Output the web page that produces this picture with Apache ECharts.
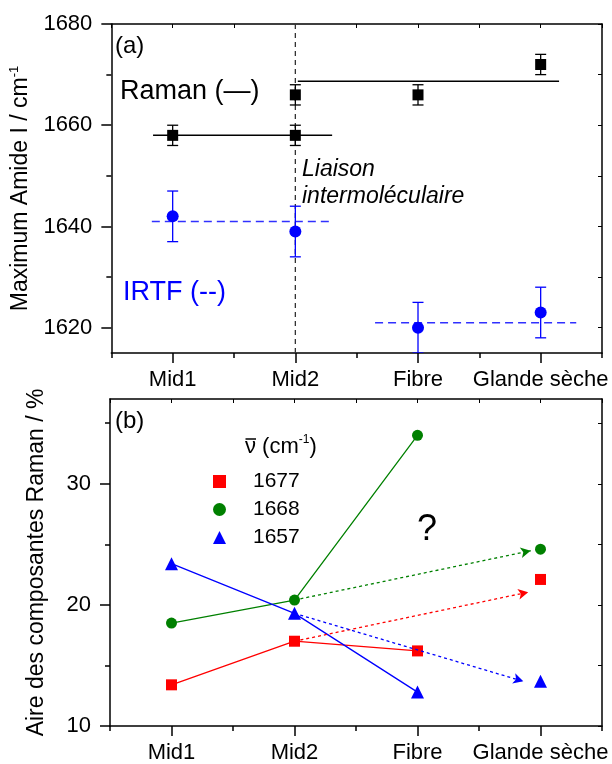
<!DOCTYPE html>
<html><head><meta charset="utf-8">
<script src="https://cdn.jsdelivr.net/npm/echarts@6/dist/echarts.min.js"></script>
<style>html,body{margin:0;padding:0;background:#fff}#c{width:612px;height:764px}</style>
</head><body><div id="c"></div>
<script>
// ---------- data ----------
const categories = ['Mid1', 'Mid2', 'Fibre', 'Glande sèche'];
const catPos = [1, 2, 3, 4];
const halfPos = [0.5, 1.5, 2.5, 3.5, 4.5];
const allPos = [0.5, 1, 1.5, 2, 2.5, 3, 3.5, 4, 4.5];

// panel (a)
const ramanX = [1, 2, 2, 3, 4];
const ramanY = [1658, 1658, 1666, 1666, 1672];
const ramanErr = [2, 2, 2, 2, 2];
const irtfX = [1, 2, 3, 4];
const irtfY = [1642, 1639, 1620, 1623];
const irtfErr = [5, 5, 5, 5];
const ramanLevel1 = [[0.84, 1658], [2.30, 1658]];
const ramanLevel2 = [[2.02, 1668.7], [4.15, 1668.7]];
const irtfLevel1 = [[0.83, 1641], [2.30, 1641]];
const irtfLevel2 = [[2.65, 1621], [4.29, 1621]];
const separatorLine = [[2, 1615], [2, 1680]];
const aMajor = [1620, 1640, 1660, 1680];
const aMinor = [1630, 1650, 1670];
const aAll = [1620, 1630, 1640, 1650, 1660, 1670, 1680];

// panel (b)
const v1677 = [13.4, 17.0, 16.2, 22.1];
const v1668 = [18.5, 20.4, 34.0, 24.6];
const v1657 = [23.4, 19.3, 12.8, 13.7];
const arrow1677 = [[2, 17.0], [3.90, 21.05]];
const arrow1668 = [[2, 20.4], [3.92, 24.47]];
const arrow1657 = [[2, 19.3], [3.86, 13.69]];
const bMajor = [10, 20, 30];
const bMinor = [15, 25, 35];
const bAll = [10, 15, 20, 25, 30, 35];

// ---------- helpers ----------
const FONT = "'Liberation Sans', Arial, sans-serif";
const RED = '#ff0000', GREEN = '#008000', BLUE = '#0000ff';

function pts(xs, ys) { return xs.map((x, i) => [x, ys[i]]); }

function errRender(color, capW) {
  return function (params, api) {
    const x = api.value(0), y = api.value(1), e = api.value(2);
    const hi = api.coord([x, y + e]), lo = api.coord([x, y - e]);
    const st = { stroke: color, lineWidth: 1.3 };
    return {
      type: 'group', children: [
        { type: 'line', shape: { x1: hi[0], y1: hi[1], x2: lo[0], y2: lo[1] }, style: st },
        { type: 'line', shape: { x1: hi[0] - capW / 2, y1: hi[1], x2: hi[0] + capW / 2, y2: hi[1] }, style: st },
        { type: 'line', shape: { x1: lo[0] - capW / 2, y1: lo[1], x2: lo[0] + capW / 2, y2: lo[1] }, style: st }
      ]
    };
  };
}

const axisLine = { show: true, lineStyle: { color: '#000', width: 1.5 } };

function xAxes(grid) {
  return [
    { gridIndex: grid, type: 'value', position: 'bottom', min: 0.5, max: 4.5,
      axisLine: axisLine, splitLine: { show: false },
      axisTick: { show: true, inside: false, length: 10, customValues: catPos, lineStyle: { color: '#000', width: 1.5 } },
      axisLabel: { show: true, customValues: catPos, margin: 16, fontSize: 22, fontFamily: FONT, color: '#000',
        formatter: v => categories[Math.round(v) - 1] } },
    { gridIndex: grid, type: 'value', position: 'bottom', min: 0.5, max: 4.5,
      axisLine: { show: false }, splitLine: { show: false }, axisLabel: { show: false },
      axisTick: { show: true, inside: false, length: 5, customValues: halfPos, lineStyle: { color: '#000', width: 1.5 } } },
    { gridIndex: grid, type: 'value', position: 'top', min: 0.5, max: 4.5,
      axisLine: axisLine, splitLine: { show: false }, axisLabel: { show: false },
      axisTick: { show: true, inside: true, length: 4, customValues: allPos, lineStyle: { color: '#000', width: 1 } } }
  ];
}

function yAxes(grid, min, max, major, minor, all, nameRich) {
  return [
    { gridIndex: grid, type: 'value', position: 'left', min: min, max: max,
      axisLine: axisLine, splitLine: { show: false },
      axisTick: { show: true, inside: false, length: 10, customValues: major, lineStyle: { color: '#000', width: 1.5 } },
      axisLabel: { show: true, customValues: major, margin: 19, fontSize: 22, fontFamily: FONT, color: '#000',
        formatter: v => String(v) },
      name: nameRich, nameLocation: 'middle', nameGap: 60,
      nameTextStyle: { fontFamily: FONT, color: '#000',
        rich: { t: { fontSize: 23, fontFamily: FONT, color: '#000', lineHeight: 26 },
                s: { fontSize: 13, fontFamily: FONT, color: '#000', verticalAlign: 'top', lineHeight: 26 } } } },
    { gridIndex: grid, type: 'value', position: 'left', min: min, max: max,
      axisLine: { show: false }, splitLine: { show: false }, axisLabel: { show: false },
      axisTick: { show: true, inside: false, length: 5, customValues: minor, lineStyle: { color: '#000', width: 1.5 } } },
    { gridIndex: grid, type: 'value', position: 'right', min: min, max: max,
      axisLine: axisLine, splitLine: { show: false }, axisLabel: { show: false },
      axisTick: { show: true, inside: true, length: 4, customValues: all, lineStyle: { color: '#000', width: 1 } } }
  ];
}

function lineSeg(data, color, type, width, xi, yi) {
  return { type: 'line', xAxisIndex: xi, yAxisIndex: yi, data: data, showSymbol: false, symbol: 'none',
    silent: true, lineStyle: { color: color, width: width, type: type }, z: 2 };
}

function arrowSeries(arrow, color) {
  return { type: 'line', xAxisIndex: 3, yAxisIndex: 3, data: [], symbol: 'none', silent: true,
    markLine: { silent: true, symbol: ['none', 'arrow'], symbolSize: [8, 10], label: { show: false },
      lineStyle: { color: color, width: 1.3, type: [3, 3] },
      data: [[{ coord: arrow[0] }, { coord: arrow[1] }]] }, z: 2 };
}

const chart = echarts.init(document.getElementById('c'), null, { renderer: 'canvas' });
const option = {
  animation: false,
  backgroundColor: '#fff',
  textStyle: { fontFamily: FONT },
  grid: [
    { left: 110, right: 10, top: 24, height: 329 },
    { left: 110, right: 10, top: 399, height: 328 }
  ],
  xAxis: [].concat(xAxes(0), xAxes(1)),
  yAxis: [].concat(
    yAxes(0, 1615, 1680, aMajor, aMinor, aAll, '{t|Maximum Amide I / cm}{s|-1}'),
    yAxes(1, 10, 37, bMajor, bMinor, bAll, '{t|Aire des composantes Raman / %}')
  ),
  legend: {
    data: [{ name: '1677', icon: 'rect' }, { name: '1668', icon: 'circle' }, { name: '1657', icon: 'triangle' }],
    orient: 'vertical', left: 208, top: 466, itemWidth: 13, itemHeight: 13, itemGap: 7,
    selectedMode: false,
    textStyle: { fontSize: 21, fontFamily: FONT, color: '#000', padding: [0, 0, 0, 22] }
  },
  series: [
    // panel (a)
    lineSeg(separatorLine, '#333', [5, 4], 1.3, 0, 0),
    lineSeg(ramanLevel1, '#000', 'solid', 1.5, 0, 0),
    lineSeg(ramanLevel2, '#000', 'solid', 1.5, 0, 0),
    lineSeg(irtfLevel1, '#3030ff', [8, 5], 1.5, 0, 0),
    lineSeg(irtfLevel2, '#3030ff', [8, 5], 1.5, 0, 0),
    { type: 'custom', xAxisIndex: 0, yAxisIndex: 0, renderItem: errRender('#000', 11), clip: true, silent: true,
      data: ramanX.map((x, i) => [x, ramanY[i], ramanErr[i]]), z: 3 },
    { type: 'custom', xAxisIndex: 0, yAxisIndex: 0, renderItem: errRender(BLUE, 11), clip: true, silent: true,
      data: irtfX.map((x, i) => [x, irtfY[i], irtfErr[i]]), z: 3 },
    { name: 'Raman', type: 'scatter', xAxisIndex: 0, yAxisIndex: 0, data: pts(ramanX, ramanY),
      symbol: 'rect', symbolSize: 11, itemStyle: { color: '#000', opacity: 1 }, z: 4 },
    { name: 'IRTF', type: 'scatter', xAxisIndex: 0, yAxisIndex: 0, data: pts(irtfX, irtfY),
      symbol: 'circle', symbolSize: 12, itemStyle: { color: BLUE, opacity: 1 }, z: 4 },
    // panel (b)
    lineSeg(pts(catPos.slice(0, 3), v1677.slice(0, 3)), RED, 'solid', 1.3, 3, 3),
    lineSeg(pts(catPos.slice(0, 3), v1668.slice(0, 3)), GREEN, 'solid', 1.3, 3, 3),
    lineSeg(pts(catPos.slice(0, 3), v1657.slice(0, 3)), BLUE, 'solid', 1.3, 3, 3),
    arrowSeries(arrow1677, RED),
    arrowSeries(arrow1668, GREEN),
    arrowSeries(arrow1657, BLUE),
    { name: '1677', type: 'scatter', xAxisIndex: 3, yAxisIndex: 3, data: pts(catPos, v1677),
      symbol: 'rect', symbolSize: 11, itemStyle: { color: RED, opacity: 1 }, z: 4 },
    { name: '1668', type: 'scatter', xAxisIndex: 3, yAxisIndex: 3, data: pts(catPos, v1668),
      symbol: 'circle', symbolSize: 11, itemStyle: { color: GREEN, opacity: 1 }, z: 4 },
    { name: '1657', type: 'scatter', xAxisIndex: 3, yAxisIndex: 3, data: pts(catPos, v1657),
      symbol: 'triangle', symbolSize: 13, itemStyle: { color: BLUE, opacity: 1 }, z: 4 }
  ],
  graphic: [
    { type: 'text', left: 115, top: 34, style: { text: '(a)', font: '24px ' + FONT, fill: '#000' } },
    { type: 'text', left: 120, top: 78, style: { text: 'Raman (—)', font: '27px ' + FONT, fill: '#000' } },
    { type: 'text', left: 123, top: 279, style: { text: 'IRTF (--)', font: '27px ' + FONT, fill: BLUE } },
    { type: 'text', left: 302, top: 156, style: { text: 'Liaison\nintermoléculaire', font: 'italic 23px ' + FONT, fill: '#000', lineHeight: 27 } },
    { type: 'text', left: 115, top: 409, style: { text: '(b)', font: '24px ' + FONT, fill: '#000' } },
    { type: 'text', left: 245, top: 434, style: {
        text: '{t|\u03BD (cm}{s|-1}{t|)}',
        rich: { t: { fontSize: 22, fontFamily: FONT, fill: '#000', lineHeight: 26 },
                s: { fontSize: 12, fontFamily: FONT, fill: '#000', verticalAlign: 'top', lineHeight: 26 } } } },
    { type: 'line', shape: { x1: 245.5, y1: 439, x2: 256, y2: 439 }, style: { stroke: '#000', lineWidth: 1.5 } },
    { type: 'text', left: 417, top: 512, style: { text: '?', font: '36px ' + FONT, fill: '#000' } }
  ]
};
chart.setOption(option);
</script></body></html>
